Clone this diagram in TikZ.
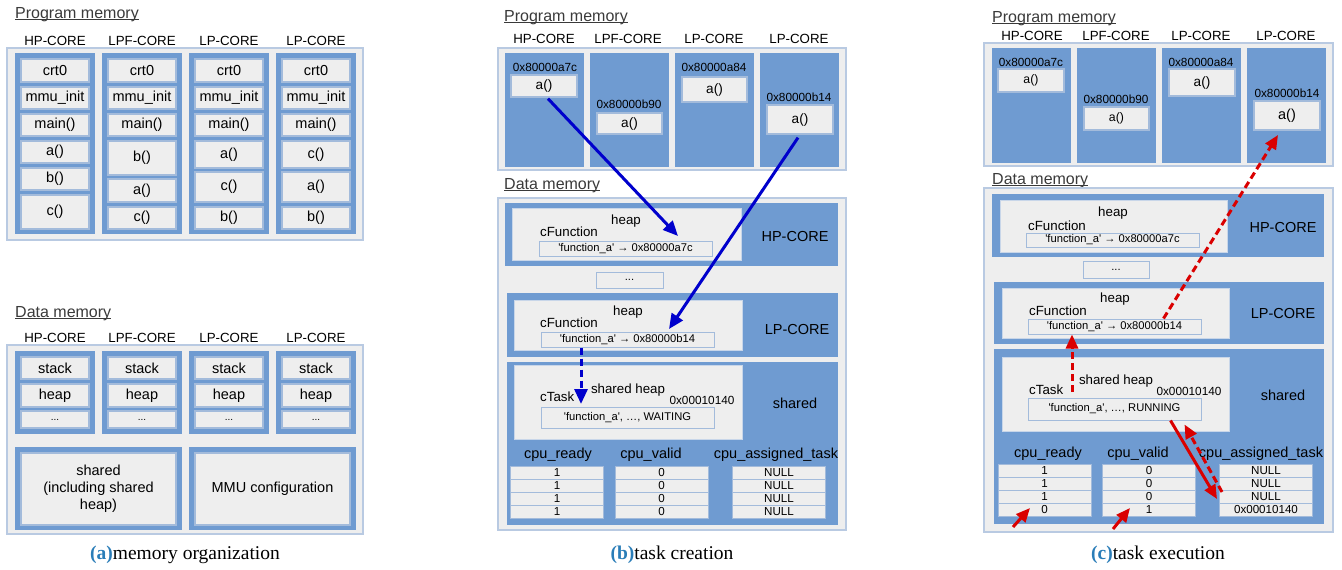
\documentclass[tikz,border=0pt]{standalone}
\usepackage{fontspec}
\setmainfont{Liberation Sans}
\newfontfamily\captionserif{Liberation Serif}
\usetikzlibrary{arrows.meta,calc}
\definecolor{memblue}{HTML}{6F9BD1}
\definecolor{memgray}{HTML}{EEEEEE}
\definecolor{memline}{HTML}{A3BBDB}
\definecolor{memframe}{HTML}{B9CAE2}
\definecolor{memtitle}{HTML}{3A3A3A}
\definecolor{flowblue}{HTML}{0000CC}
\definecolor{flowred}{HTML}{DA0000}
\definecolor{capblue}{HTML}{2A7DB8}
\newcommand\fnkey{\textquotesingle function\_a\textquotesingle}
\newcommand\titleline[1]{\underline{\smash{#1}}}
\tikzset{
  paneltitle/.style={font=\fontsize{16}{18}\selectfont, text=memtitle, anchor=west, inner sep=0pt},
  corename/.style={font=\fontsize{13.3}{15}\selectfont, inner sep=0pt},
  outerbox/.style={draw=memframe, fill=memgray, line width=1.3pt},
  cellbox/.style={draw=memline, fill=memgray, line width=1.3pt, inner sep=0pt,
    font=\fontsize{14.5}{17}\selectfont},
  fnbox/.style={cellbox, font=\fontsize{13.6}{15}\selectfont},
  heapbox/.style={draw=memline!60, fill=memgray, line width=.8pt, inner sep=0pt},
  heaptext/.style={font=\fontsize{13.3}{15}\selectfont, inner sep=0pt},
  addrtext/.style={font=\fontsize{11.8}{13}\selectfont, inner sep=0pt},
  mapbox/.style={draw=memline, fill=memgray, line width=1pt, inner sep=0pt,
    font=\fontsize{11.2}{13}\selectfont},
  bandname/.style={font=\fontsize{14.5}{17}\selectfont, inner sep=0pt},
  colhead/.style={font=\fontsize{14.5}{17}\selectfont, inner sep=0pt},
  tablecell/.style={draw=memline, fill=memgray, line width=1pt, inner sep=0pt,
    minimum width=93, minimum height=13, font=\fontsize{11.6}{12}\selectfont},
  subcap/.style={font=\captionserif\fontsize{19.5}{22}\selectfont, inner sep=0pt},
  blueflow/.style={-{Triangle[length=15pt,width=13pt]}, draw=flowblue, line width=3pt},
  bluedash/.style={blueflow, dash pattern=on 7pt off 4pt},
  redflow/.style={-{Triangle[length=14pt,width=12pt]}, draw=flowred, line width=3pt},
  reddash/.style={redflow, dash pattern=on 7pt off 4pt}
}

\begin{document}
\begin{tikzpicture}[x=1pt,y=-1pt]
  \useasboundingbox (0,0) rectangle (1342,570);

  % (a) program memory: one column of sections per core
  \node[paneltitle] (a-ptitle) at (15,19) {\titleline{Program memory}};
  \draw[outerbox] (7,48) rectangle (363,240);
  \foreach \cx/\nm/\fns [count=\c] in {55/HP-CORE/{a()/141/163,b()/168/190,c()/195/229},
      142/LPF-CORE/{b()/141/175,a()/179/202,c()/207/229},
      229/LP-CORE/{a()/141/168,c()/172/202,b()/207/229},
      316/LP-CORE/{c()/141/168,a()/172/202,b()/207/229}} {
    \node[corename] (a-pcore\c) at (\cx,41) {\nm};
    \fill[memblue] (\cx-40,53) rectangle (\cx+40,234);
    \node[cellbox, minimum width=68, minimum height=23] (a-crt\c) at (\cx,70.5) {crt0};
    \node[cellbox, minimum width=68, minimum height=22] (a-mmu\c) at (\cx,98) {mmu\_init};
    \node[cellbox, minimum width=68, minimum height=22] (a-main\c) at (\cx,125) {main()};
    \foreach \fn/\ya/\yb [count=\k] in \fns
      \node[cellbox, minimum width=68, minimum height=\yb-\ya] (a-fn\c-\k) at (\cx,{(\ya+\yb)/2}) {\fn};
  }

  % (a) data memory
  \node[paneltitle] (a-dtitle) at (15,318) {\titleline{Data memory}};
  \draw[outerbox] (7,345) rectangle (363,534);
  \foreach \cx/\nm [count=\c] in {55/HP-CORE,142/LPF-CORE,229/LP-CORE,316/LP-CORE} {
    \node[corename] (a-dcore\c) at (\cx,338) {\nm};
    \fill[memblue] (\cx-40,351) rectangle (\cx+40,434);
    \node[cellbox, minimum width=68, minimum height=22] (a-stack\c) at (\cx,368) {stack};
    \node[cellbox, minimum width=68, minimum height=23] (a-heap\c) at (\cx,395.5) {heap};
    \node[cellbox, minimum width=68, minimum height=17, font=\fontsize{10}{11}\selectfont] (a-more\c) at (\cx,419.5) {...};
  }
  \fill[memblue] (15,447) rectangle (182,530);
  \node[cellbox, minimum width=155, minimum height=72, align=center] (a-shared) at (98.5,489)
    {shared\\(including shared\\heap)};
  \fill[memblue] (189,447) rectangle (356,530);
  \node[cellbox, minimum width=155, minimum height=72] (a-mmucfg) at (272.5,489) {MMU configuration};
  \node[subcap] (a-cap) at (185,555) {\textcolor{capblue}{\bfseries (a)}memory organization};

  % (b) program memory with the a() entry of every core
  \node[paneltitle] (b-ptitle) at (504,22) {\titleline{Program memory}};
  \foreach \cx/\nm [count=\c] in {544/HP-CORE,628/LPF-CORE,714/LP-CORE,799/LP-CORE}
    \node[corename] (b-pcore\c) at (\cx,39) {\nm};
  \draw[outerbox] (498,48) rectangle (846,170);
  \foreach \xl in {505,590,675,760}
    \fill[memblue] (\xl,53) rectangle (\xl+79,167);
  \node[addrtext] (b-addr1) at (545,67) {0x80000a7c};
  \node[fnbox, minimum width=66, minimum height=22] (b-fn1) at (544,86) {a()};
  \node[addrtext] (b-addr2) at (629,104) {0x80000b90};
  \node[fnbox, minimum width=65, minimum height=21] (b-fn2) at (629.5,123.5) {a()};
  \node[addrtext] (b-addr3) at (714,67) {0x80000a84};
  \node[fnbox, minimum width=65, minimum height=25] (b-fn3) at (714.5,89.5) {a()};
  \node[addrtext] (b-addr4) at (799,97) {0x80000b14};
  \node[fnbox, minimum width=66, minimum height=29] (b-fn4) at (800,119.5) {a()};

  % (b) data memory: per-core heaps and the shared heap
  \node[paneltitle] (b-dtitle) at (504,190) {\titleline{Data memory}};
  \draw[outerbox] (498,198) rectangle (846,530);
  \fill[memblue] (505,203) rectangle (838,266);
  \node[heapbox, minimum width=229, minimum height=52] (b-hpheap) at (626.5,234) {};
  \node[heaptext] (b-hplbl) at (626,221) {heap};
  \node[heaptext, anchor=west] (b-hpcfun) at (540,232) {cFunction};
  \node[mapbox, minimum width=173, minimum height=15] (b-hpmap) at (625.5,248.5) {\fnkey\ → 0x80000a7c};
  \node[bandname] (b-hpname) at (795,237) {HP-CORE};
  \node[mapbox, minimum width=67, minimum height=16] (b-more) at (629.5,280) {...};
  \fill[memblue] (507,293) rectangle (838,357);
  \node[heapbox, minimum width=228, minimum height=50] (b-lpheap) at (628,325) {};
  \node[heaptext] (b-lplbl) at (628,312) {heap};
  \node[heaptext, anchor=west] (b-lpcfun) at (540,323) {cFunction};
  \node[mapbox, minimum width=173, minimum height=15] (b-lpmap) at (627.5,339.5) {\fnkey\ → 0x80000b14};
  \node[bandname] (b-lpname) at (797,330) {LP-CORE};
  \fill[memblue] (507,362) rectangle (838,525);
  \node[heapbox, minimum width=228, minimum height=74] (b-shheap) at (628,402) {};
  \node[heaptext] (b-shlbl) at (628,390) {shared heap};
  \node[heaptext, anchor=west] (b-ctask) at (540,397) {cTask};
  \node[addrtext] (b-shaddr) at (702,400) {0x00010140};
  \node[mapbox, minimum width=173, minimum height=21] (b-shmap) at (627.5,417.5) {\fnkey, …, WAITING};
  \node[bandname] (b-shname) at (795,403) {shared};
  \node[colhead] (b-hready) at (558,455) {cpu\_ready};
  \node[colhead] (b-hvalid) at (651,455) {cpu\_valid};
  \node[colhead] (b-htask) at (776,455) {cpu\_assigned\_task};
  \foreach \ry [count=\k] in {472.5,485.5,498.5,511.5} {
    \node[tablecell] (b-ready\k) at (557,\ry) {1};
    \node[tablecell] (b-valid\k) at (661.5,\ry) {0};
    \node[tablecell] (b-task\k) at (779,\ry) {NULL};
  }
  \node[subcap] (b-cap) at (672,555) {\textcolor{capblue}{\bfseries (b)}task creation};

  % (b) registration of a() and creation of the task
  \coordinate (b-hptip) at (678,236);
  \coordinate (b-lptip) at (669,329);
  \coordinate (b-tasktip) at (581,404);
  \draw[blueflow] ($(b-fn1.south)+(4,1)$) -- (b-hptip);
  \draw[blueflow] ($(b-fn4.south)+(-2,3)$) -- (b-lptip);
  \draw[bluedash] (b-lpmap.south -| b-tasktip) -- (b-tasktip);

  % (c) program memory, same layout
  \node[paneltitle] (c-ptitle) at (992,23) {\titleline{Program memory}};
  \foreach \cx/\nm [count=\c] in {1032/HP-CORE,1116/LPF-CORE,1201/LP-CORE,1286/LP-CORE}
    \node[corename] (c-pcore\c) at (\cx,36) {\nm};
  \draw[outerbox] (984,43) rectangle (1333,166);
  \foreach \xl in {992,1077,1162,1247}
    \fill[memblue] (\xl,48) rectangle (\xl+79,163);
  \node[addrtext] (c-addr1) at (1031,62) {0x80000a7c};
  \node[fnbox, minimum width=66, minimum height=23, font=\fontsize{12.3}{14}\selectfont] (c-fn1) at (1031,80.5) {a()};
  \node[addrtext] (c-addr2) at (1116,99) {0x80000b90};
  \node[fnbox, minimum width=65, minimum height=23, font=\fontsize{12.3}{14}\selectfont] (c-fn2) at (1116.5,118.5) {a()};
  \node[addrtext] (c-addr3) at (1201,62) {0x80000a84};
  \node[fnbox, minimum width=66, minimum height=27] (c-fn3) at (1202,82.5) {a()};
  \node[addrtext] (c-addr4) at (1287,93) {0x80000b14};
  \node[fnbox, minimum width=66, minimum height=29, font=\fontsize{14.5}{16}\selectfont] (c-fn4) at (1287,115.5) {a()};

  % (c) data memory while the task runs
  \node[paneltitle] (c-dtitle) at (992,185) {\titleline{Data memory}};
  \draw[outerbox] (984,188) rectangle (1333,532);
  \fill[memblue] (992,194) rectangle (1324,257);
  \node[heapbox, minimum width=227, minimum height=52] (c-hpheap) at (1113.5,226) {};
  \node[heaptext] (c-hplbl) at (1113,213) {heap};
  \node[heaptext, anchor=west] (c-hpcfun) at (1028,226) {cFunction};
  \node[mapbox, minimum width=173, minimum height=14] (c-hpmap) at (1112.5,240) {\fnkey\ → 0x80000a7c};
  \node[bandname] (c-hpname) at (1283,228) {HP-CORE};
  \node[mapbox, minimum width=66, minimum height=17] (c-more) at (1116,269.5) {...};
  \fill[memblue] (994,282) rectangle (1324,344);
  \node[heapbox, minimum width=227, minimum height=50] (c-lpheap) at (1115.5,313) {};
  \node[heaptext] (c-lplbl) at (1115,299) {heap};
  \node[heaptext, anchor=west] (c-lpcfun) at (1029,311) {cFunction};
  \node[mapbox, minimum width=173, minimum height=15] (c-lpmap) at (1114.5,326.5) {\fnkey\ → 0x80000b14};
  \node[bandname] (c-lpname) at (1283,314) {LP-CORE};
  \fill[memblue] (994,349) rectangle (1324,524);
  \node[heapbox, minimum width=227, minimum height=74] (c-shheap) at (1115.5,394) {};
  \node[heaptext] (c-shlbl) at (1116,381) {shared heap};
  \node[heaptext, anchor=west] (c-ctask) at (1029,390) {cTask};
  \node[addrtext] (c-shaddr) at (1189,391) {0x00010140};
  \node[mapbox, minimum width=173, minimum height=22] (c-shmap) at (1114.5,409) {\fnkey, …, RUNNING};
  \node[bandname] (c-shname) at (1283,395) {shared};
  \node[colhead] (c-hready) at (1048,454) {cpu\_ready};
  \node[colhead] (c-hvalid) at (1138,454) {cpu\_valid};
  \node[colhead] (c-htask) at (1261,454) {cpu\_assigned\_task};
  \foreach \ry/\rd/\vl/\tk [count=\k] in {470.5/1/0/NULL,483.5/1/0/NULL,496.5/1/0/NULL,509.5/0/1/0x00010140} {
    \node[tablecell] (c-ready\k) at (1044.5,\ry) {\rd};
    \node[tablecell] (c-valid\k) at (1149,\ry) {\vl};
    \node[tablecell] (c-task\k) at (1266,\ry) {\tk};
  }
  \node[subcap] (c-cap) at (1158,555) {\textcolor{capblue}{\bfseries (c)}task execution};

  % (c) a core picks up the task and follows cFunction to a()
  \coordinate (c-progtip) at (1278,135);
  \coordinate (c-taskfrom) at (1072,392);
  \coordinate (c-celltip) at (1217,499);
  \coordinate (c-cellfrom) at (1222,492);
  \coordinate (c-readytip) at (1030,508);
  \coordinate (c-validtip) at (1130,508);
  \draw[reddash] ($(c-lpmap.north)+(49,0)$) -- (c-progtip);
  \draw[reddash] (c-taskfrom) -- (c-lpmap.south -| c-taskfrom);
  \draw[redflow] ($(c-shmap.south)+(56,0)$) -- (c-celltip);
  \draw[reddash] (c-cellfrom) -- ($(c-shmap.south)+(70,4)$);
  \draw[redflow] ($(c-readytip)+(-17,19)$) -- (c-readytip);
  \draw[redflow] ($(c-validtip)+(-17,21)$) -- (c-validtip);
\end{tikzpicture}
\end{document}
